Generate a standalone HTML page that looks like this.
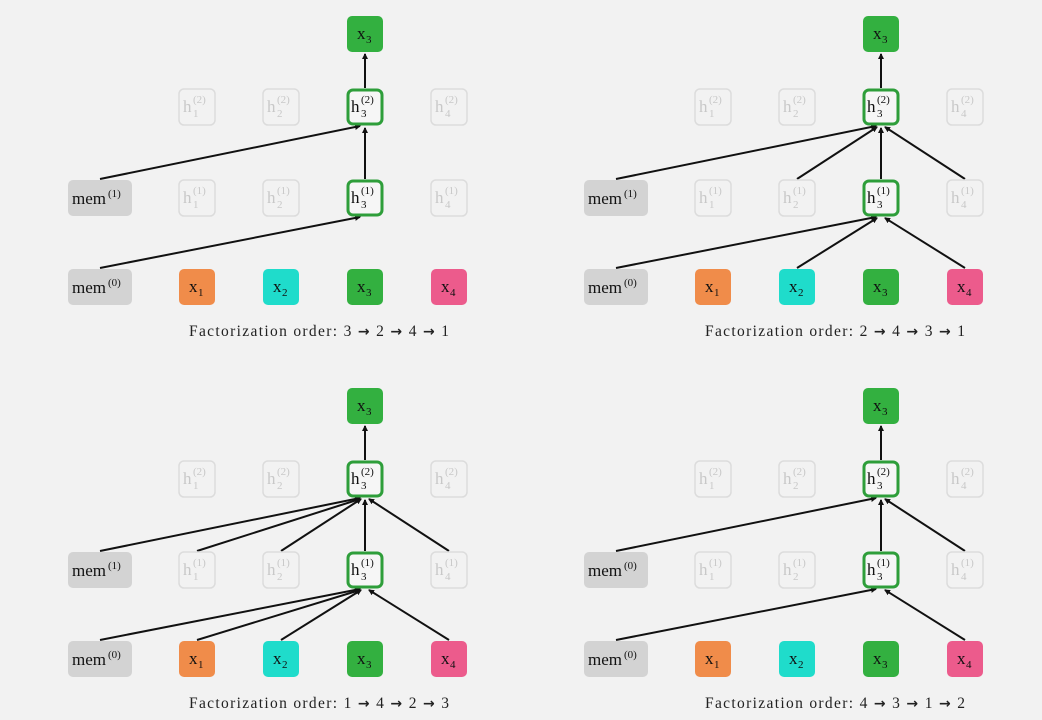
<!DOCTYPE html>
<html><head><meta charset="utf-8"><style>
html,body{margin:0;padding:0;background:#f2f2f2;}
svg{display:block;}
text{font-family:"Liberation Serif",serif;}
.lbl{font-size:17px;fill:#111;}
.sm{font-size:11px;fill:#111;}
.f .lbl,.f .sm{fill:#c8c8c8;}
.ln{stroke:#111;stroke-width:2;fill:none;marker-end:url(#ah);}
.cap{font-size:15.5px;fill:#222;}
.ar{font-weight:bold;font-family:"DejaVu Sans",sans-serif;font-size:14px;}
</style></head><body>
<svg width="1042" height="720" viewBox="0 0 1042 720" xmlns="http://www.w3.org/2000/svg">
<defs>
<marker id="ah" markerWidth="6" markerHeight="6" refX="5" refY="3" orient="auto" markerUnits="userSpaceOnUse"><path d="M0,0 L6,3 L0,6 z" fill="#111"/></marker>
</defs>
<rect width="1042" height="720" fill="#f2f2f2"/>

<!-- PANEL 1 -->
<g transform="translate(0,0)">
<line class="ln" x1="100" y1="179" x2="360" y2="126"/>
<line class="ln" x1="100" y1="268" x2="360" y2="217"/>
<line class="ln" x1="365" y1="179" x2="365" y2="128"/>
<line class="ln" x1="365" y1="88" x2="365" y2="54"/>
<g id="base">
<rect x="347" y="16" width="36" height="36" rx="5" fill="#33b040"/>
<text class="lbl" x="357" y="39">x</text><text class="sm" x="366" y="43">3</text>
<g class="f">
<rect x="179" y="89" width="36" height="36" rx="5" fill="none" stroke="#dcdcdc" stroke-width="1.5"/>
<text class="lbl" x="183" y="112">h</text><text class="sm" x="193" y="103">(2)</text><text class="sm" x="193" y="117">1</text>
<rect x="263" y="89" width="36" height="36" rx="5" fill="none" stroke="#dcdcdc" stroke-width="1.5"/>
<text class="lbl" x="267" y="112">h</text><text class="sm" x="277" y="103">(2)</text><text class="sm" x="277" y="117">2</text>
<rect x="431" y="89" width="36" height="36" rx="5" fill="none" stroke="#dcdcdc" stroke-width="1.5"/>
<text class="lbl" x="435" y="112">h</text><text class="sm" x="445" y="103">(2)</text><text class="sm" x="445" y="117">4</text>
<rect x="179" y="180" width="36" height="36" rx="5" fill="none" stroke="#dcdcdc" stroke-width="1.5"/>
<text class="lbl" x="183" y="203">h</text><text class="sm" x="193" y="194">(1)</text><text class="sm" x="193" y="208">1</text>
<rect x="263" y="180" width="36" height="36" rx="5" fill="none" stroke="#dcdcdc" stroke-width="1.5"/>
<text class="lbl" x="267" y="203">h</text><text class="sm" x="277" y="194">(1)</text><text class="sm" x="277" y="208">2</text>
<rect x="431" y="180" width="36" height="36" rx="5" fill="none" stroke="#dcdcdc" stroke-width="1.5"/>
<text class="lbl" x="435" y="203">h</text><text class="sm" x="445" y="194">(1)</text><text class="sm" x="445" y="208">4</text>
</g>
<rect x="348" y="90" width="34" height="34" rx="5" fill="#f6f6f6" stroke="#2e9e3a" stroke-width="3"/>
<text class="lbl" x="351" y="112">h</text><text class="sm" x="361" y="103">(2)</text><text class="sm" x="361" y="117">3</text>
<rect x="348" y="181" width="34" height="34" rx="5" fill="#f6f6f6" stroke="#2e9e3a" stroke-width="3"/>
<text class="lbl" x="351" y="203">h</text><text class="sm" x="361" y="194">(1)</text><text class="sm" x="361" y="208">3</text>
<rect x="68" y="269" width="64" height="36" rx="5" fill="#d3d3d3"/>
<text class="lbl" x="72" y="293">mem</text><text class="sm" x="108" y="286">(0)</text>
<rect x="179" y="269" width="36" height="36" rx="5" fill="#f08c4a"/>
<text class="lbl" x="189" y="292">x</text><text class="sm" x="198" y="296">1</text>
<rect x="263" y="269" width="36" height="36" rx="5" fill="#1fdccb"/>
<text class="lbl" x="273" y="292">x</text><text class="sm" x="282" y="296">2</text>
<rect x="347" y="269" width="36" height="36" rx="5" fill="#33b040"/>
<text class="lbl" x="357" y="292">x</text><text class="sm" x="366" y="296">3</text>
<rect x="431" y="269" width="36" height="36" rx="5" fill="#ec5b8c"/>
<text class="lbl" x="441" y="292">x</text><text class="sm" x="450" y="296">4</text>
<rect x="68" y="180" width="64" height="36" rx="5" fill="#d3d3d3"/>
</g>
<text class="lbl" x="72" y="204">mem</text><text class="sm" x="108" y="197">(1)</text>
<text class="cap" x="189" y="336" textLength="260" lengthAdjust="spacing">Factorization order: 3 <tspan class="ar">→</tspan> 2 <tspan class="ar">→</tspan> 4 <tspan class="ar">→</tspan> 1</text>
</g>

<!-- PANEL 2 -->
<g transform="translate(516,0)">
<line class="ln" x1="100" y1="179" x2="360" y2="126"/>
<line class="ln" x1="281" y1="179" x2="361" y2="127"/>
<line class="ln" x1="449" y1="179" x2="369" y2="127"/>
<line class="ln" x1="365" y1="179" x2="365" y2="128"/>
<line class="ln" x1="100" y1="268" x2="360" y2="217"/>
<line class="ln" x1="281" y1="268" x2="361" y2="218"/>
<line class="ln" x1="449" y1="268" x2="369" y2="218"/>
<line class="ln" x1="365" y1="88" x2="365" y2="54"/>
<use href="#base"/>
<text class="lbl" x="72" y="204">mem</text><text class="sm" x="108" y="197">(1)</text>
<text class="cap" x="189" y="336" textLength="260" lengthAdjust="spacing">Factorization order: 2 <tspan class="ar">→</tspan> 4 <tspan class="ar">→</tspan> 3 <tspan class="ar">→</tspan> 1</text>
</g>

<!-- PANEL 3 -->
<g transform="translate(0,372)">
<line class="ln" x1="100" y1="179" x2="360" y2="126"/>
<line class="ln" x1="197" y1="179" x2="360" y2="127"/>
<line class="ln" x1="281" y1="179" x2="361" y2="127"/>
<line class="ln" x1="449" y1="179" x2="369" y2="127"/>
<line class="ln" x1="365" y1="179" x2="365" y2="128"/>
<line class="ln" x1="100" y1="268" x2="360" y2="217"/>
<line class="ln" x1="197" y1="268" x2="360" y2="218"/>
<line class="ln" x1="281" y1="268" x2="361" y2="218"/>
<line class="ln" x1="449" y1="268" x2="369" y2="218"/>
<line class="ln" x1="365" y1="88" x2="365" y2="54"/>
<use href="#base"/>
<text class="lbl" x="72" y="204">mem</text><text class="sm" x="108" y="197">(1)</text>
<text class="cap" x="189" y="336" textLength="260" lengthAdjust="spacing">Factorization order: 1 <tspan class="ar">→</tspan> 4 <tspan class="ar">→</tspan> 2 <tspan class="ar">→</tspan> 3</text>
</g>

<!-- PANEL 4 -->
<g transform="translate(516,372)">
<line class="ln" x1="100" y1="179" x2="360" y2="126"/>
<line class="ln" x1="449" y1="179" x2="369" y2="127"/>
<line class="ln" x1="365" y1="179" x2="365" y2="128"/>
<line class="ln" x1="100" y1="268" x2="360" y2="217"/>
<line class="ln" x1="449" y1="268" x2="369" y2="218"/>
<line class="ln" x1="365" y1="88" x2="365" y2="54"/>
<use href="#base"/>
<text class="lbl" x="72" y="204">mem</text><text class="sm" x="108" y="197">(0)</text>
<text class="cap" x="189" y="336" textLength="260" lengthAdjust="spacing">Factorization order: 4 <tspan class="ar">→</tspan> 3 <tspan class="ar">→</tspan> 1 <tspan class="ar">→</tspan> 2</text>
</g>
</svg>
</body></html>
